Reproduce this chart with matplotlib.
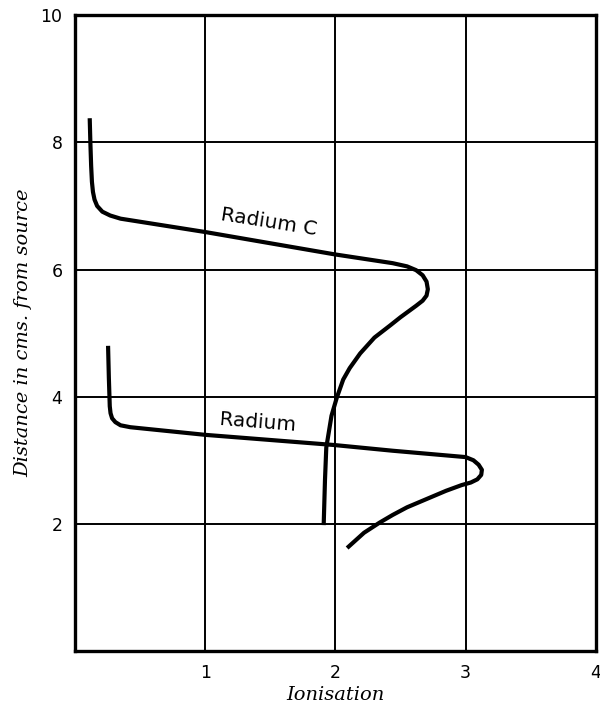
import matplotlib.pyplot as plt

# ---- data ----------------------------------------------------------------
X_TICKS = [1, 2, 3, 4]
Y_TICKS = [2, 4, 6, 8, 10]

# Radium C curve (ionisation, distance)
RAC_ION = [0.113, 0.118, 0.124, 0.130, 0.138, 0.150, 0.170, 0.21, 0.27, 0.35,
           1.00, 1.99, 2.44, 2.55, 2.62, 2.67, 2.70, 2.71, 2.70, 2.67,
           2.62, 2.56, 2.50, 2.42, 2.30, 2.19, 2.11, 2.06, 2.01, 1.97,
           1.95, 1.93, 1.92, 1.91]
RAC_DIST = [8.38, 8.00, 7.63, 7.38, 7.22, 7.10, 7.00, 6.91, 6.85, 6.80,
            6.59, 6.24, 6.10, 6.05, 5.99, 5.91, 5.81, 5.69, 5.59, 5.51,
            5.43, 5.34, 5.25, 5.12, 4.93, 4.68, 4.45, 4.27, 3.98, 3.70,
            3.45, 3.20, 2.69, 1.98]

# Radium curve
RA_ION = [0.254, 0.260, 0.267, 0.273, 0.285, 0.31, 0.35, 0.425, 1.00, 1.99,
          2.44, 3.00, 3.06, 3.10, 3.125, 3.12, 3.09, 3.04, 2.97, 2.85,
          2.70, 2.55, 2.44, 2.34, 2.22, 2.09]
RA_DIST = [4.80, 4.30, 3.85, 3.74, 3.66, 3.60, 3.55, 3.52, 3.40, 3.24,
           3.15, 3.05, 3.00, 2.93, 2.85, 2.77, 2.70, 2.65, 2.61, 2.52,
           2.39, 2.26, 2.14, 2.02, 1.86, 1.62]

# ---- figure -----------------------------------------------------------------
fig = plt.figure(figsize=(6.0, 7.08), dpi=100)
ax = fig.add_axes([0.125, 0.0805, 0.868, 0.898])
ax.set_xlim(0, 4)
ax.set_ylim(0, 10)

ax.set_xticks(X_TICKS)
ax.set_yticks(Y_TICKS)
ax.set_xticklabels([str(t) for t in X_TICKS])
ax.set_yticklabels([str(t) for t in Y_TICKS])
ax.tick_params(length=0, labelsize=12.5, pad=9)
ax.grid(True, color="black", linewidth=1.4)
ax.set_axisbelow(True)
for sp in ax.spines.values():
    sp.set_linewidth(2.4)

line_kw = dict(color="black", linewidth=3.0, solid_capstyle="butt",
               solid_joinstyle="round")
ax.plot(RAC_ION, RAC_DIST, **line_kw)
ax.plot(RA_ION, RA_DIST, **line_kw)

ax.text(1.49, 6.74, "Radium C", fontsize=14.5, rotation=-9,
        ha="center", va="center")
ax.text(1.40, 3.60, "Radium", fontsize=14.5, rotation=-4.5,
        ha="center", va="center")

serif = dict(family="DejaVu Serif", style="italic", fontsize=14)
ax.set_xlabel("Ionisation", labelpad=3, **serif)
ax.set_ylabel("Distance in cms. from source", labelpad=6, **serif)

fig.savefig("out.png", dpi=100, facecolor="white")
